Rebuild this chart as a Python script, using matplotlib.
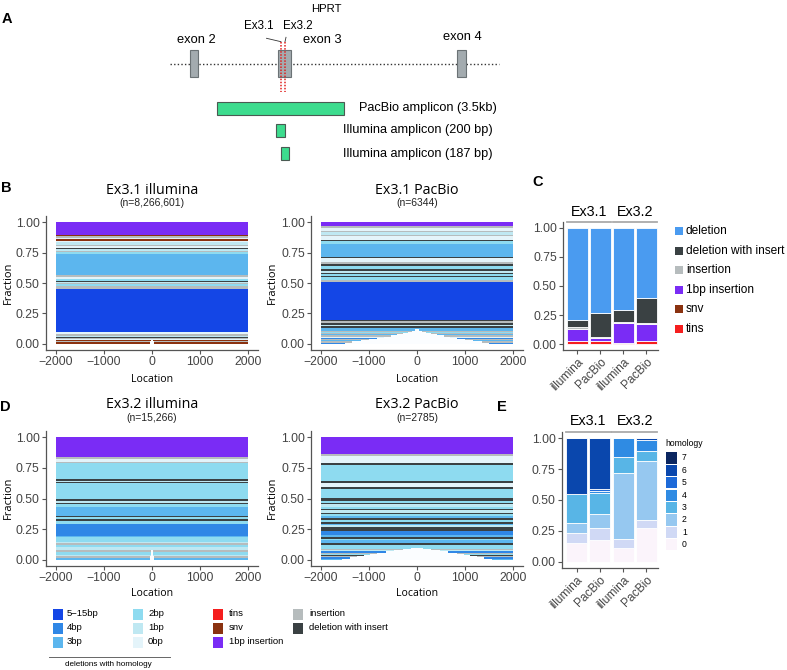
import numpy as np
import matplotlib
matplotlib.use("Agg")
import matplotlib.pyplot as plt
from matplotlib.patches import Rectangle
from matplotlib.transforms import blended_transform_factory

W, H = 787, 670
plt.rcParams['font.family'] = ['Liberation Sans', 'DejaVu Sans']

# colours used for every category in the figure
COLORS = {
    '5-15bp': '#1446E6', '4bp': '#2F87E6', '3bp': '#5CB6EE',
    '2bp': '#8EDBF0', '1bp': '#BFE8F2', '0bp': '#E4F4FA',
    'tins': '#F51E1E', 'snv': '#8A3210', '1bp insertion': '#7A2CF5',
    'insertion': '#B6BCBD', 'deletion with insert': '#3A4143',
    'deletion': '#4A9BF0',
}
HOMOLOGY_COLORS = ['#FBF4FB', '#D0D9F5', '#96C8F0', '#58B5E6',
                   '#2F8BE3', '#1E6AD8', '#0A47AD', '#0B2660']

# ---- panel A : HPRT schematic (schematic units = pixels) ----
exon_labels = ['exon 2', 'exon 3', 'exon 4']
exon_left = [190, 278, 457]
exon_right = [198, 291, 466]
exon_label_xy = [(196, 40), (322, 40), (462, 37)]
cut_labels = ['Ex3.1', 'Ex3.2']
cut_x = [280.5, 285]
amp_labels = ['PacBio amplicon (3.5kb)', 'Illumina amplicon (200 bp)', 'Illumina amplicon (187 bp)']
amp_left = [217, 276, 281]
amp_right = [344, 284.5, 289]
amp_y = [108.5, 130.5, 153.5]
amp_label_x = [359, 343, 343]

# ---- panels B/D : allele bands, bottom to top ----
ill31_cats = ['snv', 'insertion', 'snv', '0bp', 'insertion', 'deletion with insert', '1bp',
              'insertion', '0bp', '5-15bp', 'insertion', '2bp', 'insertion', '1bp',
              'deletion with insert', '2bp', '0bp', 'insertion', '3bp', '2bp', 'insertion',
              '1bp', 'deletion with insert', '0bp', 'insertion', '1bp', '0bp', 'snv', '0bp',
              'insertion', 'snv', '1bp insertion']
ill31_h = [0.012, 0.008, 0.010, 0.010, 0.010, 0.006, 0.012, 0.010, 0.018, 0.354, 0.028, 0.012,
           0.010, 0.012, 0.008, 0.015, 0.011, 0.020, 0.172, 0.014, 0.013, 0.015, 0.010, 0.015,
           0.010, 0.020, 0.013, 0.010, 0.010, 0.017, 0.011, 0.104]
ill31_gap_bottom = [45, 35, 25]

pb31_cats = ['4bp', 'insertion', '3bp', 'insertion', '4bp', '0bp', 'insertion', '3bp',
             'insertion', '2bp', 'insertion', '3bp',
             '3bp', 'deletion with insert', '1bp', 'deletion with insert', 'insertion',
             'deletion with insert', '5-15bp', 'insertion', '2bp', 'deletion with insert', '2bp',
             'deletion with insert', '1bp', 'deletion with insert', '2bp',
             'deletion with insert', 'insertion', '0bp', 'deletion with insert', '3bp', '2bp',
             'deletion with insert', '0bp', 'insertion', '1bp', 'insertion', '0bp',
             'insertion', '1bp insertion']
pb31_h = [0.010] * 12 + [0.011, 0.012, 0.015, 0.012, 0.016, 0.014, 0.305, 0.020, 0.021,
                         0.010, 0.019, 0.010, 0.017, 0.012, 0.026, 0.012, 0.018, 0.035,
                         0.011, 0.104, 0.022, 0.014, 0.029, 0.010, 0.025, 0.010, 0.021,
                         0.016, 0.033]
pb31_gap_bottom = [1500, 1340, 1170, 1000, 840, 690, 550, 420, 300, 190, 100, 40]

ill32_cats = ['3bp', 'insertion', '1bp', '2bp', 'insertion', '1bp', '2bp', 'insertion', '1bp',
              '2bp', '3bp', '4bp', '2bp', 'deletion with insert', '2bp',
              'deletion with insert', '3bp', '2bp', 'deletion with insert', '1bp',
              'deletion with insert', '2bp', 'deletion with insert', '1bp',
              'deletion with insert', '2bp', 'insertion', '0bp', 'insertion', '1bp insertion']
ill32_h = [0.014, 0.014, 0.013, 0.024, 0.016, 0.022, 0.019, 0.013, 0.014, 0.035, 0.011, 0.098,
           0.027, 0.011, 0.016, 0.011, 0.070, 0.027, 0.011, 0.011, 0.016, 0.137, 0.007, 0.008,
           0.011, 0.130, 0.014, 0.018, 0.017, 0.165]
ill32_gap_bottom = [40, 35, 30, 25, 20]

pb32_cats = ['3bp', '4bp', 'insertion', 'deletion with insert', '2bp', 'insertion', '4bp',
             '1bp', 'insertion', '2bp',
             '2bp', 'deletion with insert', '3bp', '2bp', 'deletion with insert', '3bp', '4bp',
             'deletion with insert', '1bp', '3bp', 'deletion with insert', '2bp',
             'deletion with insert', '3bp', '2bp', 'deletion with insert', '1bp',
             'deletion with insert', '2bp', '1bp', 'deletion with insert', '2bp',
             'deletion with insert', '2bp', 'deletion with insert', '0bp',
             'deletion with insert', '2bp', 'deletion with insert', '0bp', 'insertion',
             '1bp insertion']
pb32_h = [0.010] * 10 + [0.019, 0.016, 0.028, 0.010, 0.011, 0.016, 0.038, 0.033, 0.011, 0.013,
                         0.014, 0.016, 0.016, 0.017, 0.016, 0.011, 0.021, 0.011, 0.017, 0.021,
                         0.011, 0.016, 0.018, 0.075, 0.015, 0.039, 0.016, 0.125, 0.016, 0.060,
                         0.016, 0.138]
pb32_gap_bottom = [1550, 1400, 1250, 1100, 980, 830, 650, 480, 300, 120]

# ---- panel C : mutation types ----
bar_labels = ['illumina', 'PacBio', 'illumina', 'PacBio']
c_types = ['tins', 'snv', '1bp insertion', 'insertion', 'deletion with insert', 'deletion']
c_tins = [0.025, 0.025, 0.006, 0.025]
c_snv = [0.003, 0.002, 0.002, 0.002]
c_ins1 = [0.105, 0.028, 0.177, 0.145]
c_ins = [0.012, 0.008, 0.008, 0.008]
c_delins = [0.062, 0.202, 0.097, 0.220]
c_del = [0.793, 0.735, 0.710, 0.600]

# ---- panel E : homology length among deletions ----
e_h0 = [0.155, 0.175, 0.115, 0.275]
e_h1 = [0.080, 0.100, 0.070, 0.063]
e_h2 = [0.075, 0.110, 0.535, 0.480]
e_h3 = [0.240, 0.175, 0.130, 0.075]
e_h4 = [0.000, 0.012, 0.150, 0.092]
e_h5 = [0.000, 0.013, 0.000, 0.000]
e_h6 = [0.450, 0.415, 0.000, 0.015]
e_h7 = [0.000, 0.000, 0.000, 0.000]

fig = plt.figure(figsize=(W / 100, H / 100), dpi=100)
ov = fig.add_axes([0, 0, 1, 1])
ov.set_xlim(0, W)
ov.set_ylim(H, 0)
ov.axis('off')

GREY_TXT = '#444444'
SPINE = '#555555'


def px_axes(l, t, r, b):
    return fig.add_axes([l / W, 1 - b / H, (r - l) / W, (b - t) / H])


def style(ax):
    for s in ['top', 'right']:
        ax.spines[s].set_visible(False)
    for s in ['left', 'bottom']:
        ax.spines[s].set_color(SPINE)
        ax.spines[s].set_linewidth(0.9)
    ax.tick_params(length=3, width=0.8, color=SPINE, labelcolor=GREY_TXT, labelsize=8.8, pad=1.5)
    ax.set_ylim(-0.05, 1.05)
    ax.set_yticks([0, 0.25, 0.5, 0.75, 1.0])
    ax.set_yticklabels(['0.00', '0.25', '0.50', '0.75', '1.00'])


def band_plot(box, cats, heights, gap_bottom, title, n_text, xc, ytitle):
    ax = px_axes(*box)
    style(ax)
    h = np.array(heights)
    bottoms = np.concatenate([[0], np.cumsum(h)[:-1]])
    gaps = np.full(len(cats), 9.0)
    gaps[:len(gap_bottom)] = gap_bottom
    ax.barh(bottoms, 4000, left=-2000, height=h, align='edge',
            color=[COLORS[c] for c in cats], linewidth=0)
    ax.barh(bottoms, 2 * gaps, left=-gaps, height=h, align='edge', color='#FBFDFF', linewidth=0)
    ax.set_xlim(-2200, 2200)
    ax.set_xticks([-2000, -1000, 0, 1000, 2000])
    ov.text(xc, ytitle, title, ha='center', va='center', fontsize=10.3, family=['Open Sans', 'DejaVu Sans'])
    ov.text(xc, ytitle + 13, n_text, ha='center', va='center', fontsize=7.5, color='#222222')
    return ax


# ---------------- panel A ----------------
ov.text(326, 9, 'HPRT', ha='center', va='center', fontsize=8.2)
ov.plot([170, 499], [63.5, 63.5], ls=(0, (1, 1.6)), color='#333333', lw=1.0)
for lab, l, r, (tx, ty) in zip(exon_labels, exon_left, exon_right, exon_label_xy):
    ov.add_patch(Rectangle((l, 50), r - l, 27, facecolor='#A3ABAF', edgecolor='#6B7275', lw=0.8, zorder=3))
    ov.text(tx, ty, lab, ha='center', va='center', fontsize=9.3)
for x in cut_x:
    ov.plot([x, x], [42, 92], ls=(0, (1, 1)), color='#E0201E', lw=1.1, zorder=4)
ov.text(259, 26, cut_labels[0], ha='center', va='center', fontsize=8.4)
ov.text(298, 26, cut_labels[1], ha='center', va='center', fontsize=8.4)
ov.plot([266.5, 281], [38.3, 41.7], color='#333333', lw=0.6)
ov.plot([286, 285], [37.3, 41.7], color='#333333', lw=0.6)
for lab, l, r, y, tx in zip(amp_labels, amp_left, amp_right, amp_y, amp_label_x):
    ov.add_patch(Rectangle((l, y - 6.5), r - l, 13, facecolor='#3DDC8E', edgecolor='#4A5A52', lw=0.8))
    ov.text(tx, y, lab, ha='left', va='center', fontsize=9.2)

# ---------------- panels B & D ----------------
band_plot((46, 216, 258, 350), ill31_cats, ill31_h, ill31_gap_bottom,
          'Ex3.1 illumina', '(n=8,266,601)', 152, 190)
band_plot((311, 216, 523, 350), pb31_cats, pb31_h, pb31_gap_bottom,
          'Ex3.1 PacBio', '(n=6344)', 417, 190)
band_plot((46, 431, 258, 566), ill32_cats, ill32_h, ill32_gap_bottom,
          'Ex3.2 illumina', '(n=15,266)', 152, 405)
band_plot((311, 431, 523, 566), pb32_cats, pb32_h, pb32_gap_bottom,
          'Ex3.2 PacBio', '(n=2785)', 417, 405)
for x, y in [(8, 283), (272, 283), (8, 498), (272, 498)]:
    ov.text(x, y, 'Fraction', rotation=90, ha='center', va='center', fontsize=8,
            family=['Open Sans', 'DejaVu Sans'])
for x, y in [(152, 380), (417, 380), (152, 593), (417, 593)]:
    ov.text(x, y, 'Location', ha='center', va='center', fontsize=7.6,
            family=['Open Sans', 'DejaVu Sans'])

# ---------------- panels C & E ----------------
xpos = np.arange(4)


def stacked(box, layers, colors, strip_y):
    ax = px_axes(*box)
    style(ax)
    base = np.zeros(4)
    for vals, col in zip(layers, colors):
        ax.bar(xpos, vals, bottom=base, width=0.91, color=col, edgecolor='white', linewidth=0.6)
        base = base + np.array(vals)
    ax.set_xlim(-0.63, 3.5)
    ax.set_xticks(xpos)
    ax.set_xticklabels(bar_labels, rotation=45, ha='right', rotation_mode='anchor', fontsize=8.6)
    tr = blended_transform_factory(ax.transData, ax.transAxes)
    for (a, b), lab in zip([(-0.46, 1.46), (1.54, 3.46)], ['Ex3.1', 'Ex3.2']):
        ax.plot([a, b], [1.0, 1.0], transform=tr, color='#AAAAAA', lw=1.3, clip_on=False)
        ax.text((a + b) / 2, 1.0 + strip_y, lab, transform=tr, ha='center', va='center', fontsize=10.3)
    return ax


stacked((563, 222, 658, 350), [c_tins, c_snv, c_ins1, c_ins, c_delins, c_del],
        [COLORS[t] for t in c_types], 0.08)
stacked((562, 432, 658, 568), [e_h0, e_h1, e_h2, e_h3, e_h4, e_h5, e_h6, e_h7],
        HOMOLOGY_COLORS, 0.08)

# legend C
c_legend = ['deletion', 'deletion with insert', 'insertion', '1bp insertion', 'snv', 'tins']
for i, lab in enumerate(c_legend):
    y = 231 + 19.5 * i
    ov.add_patch(Rectangle((675, y - 4), 7.5, 8, facecolor=COLORS[lab], lw=0))
    ov.text(686, y, lab, ha='left', va='center', fontsize=8.6)

# legend E
ov.text(665, 444, 'homology', ha='left', va='center', fontsize=6.2)
for i in range(8):
    y = 458 + 12.4 * i
    ov.add_patch(Rectangle((666, y - 5.6), 11, 11.2, facecolor=HOMOLOGY_COLORS[7 - i], lw=0))
    ov.text(682, y, str(7 - i), ha='left', va='center', fontsize=6.2)

# bottom legend
bottom_cols = [(52.5, 67, ['5-15bp', '4bp', '3bp']),
               (133, 148, ['2bp', '1bp', '0bp']),
               (213, 229, ['tins', 'snv', '1bp insertion']),
               (293, 309, ['insertion', 'deletion with insert'])]
for sx, tx, labs in bottom_cols:
    for i, lab in enumerate(labs):
        y = 614 + 14 * i
        ov.add_patch(Rectangle((sx, y - 5.5), 10, 11, facecolor=COLORS[lab], lw=0))
        ov.text(tx, y, lab.replace('-', '\u2212'), ha='left', va='center', fontsize=6.8)
ov.plot([49, 170], [657, 657], color='#666666', lw=0.7)
ov.text(108, 664, 'deletions with homology', ha='center', va='center', fontsize=5.9)

# panel letters
for lab, x, y in [('A', 7, 19), ('B', 6, 188), ('C', 538, 182), ('D', 5, 407), ('E', 502, 407)]:
    ov.text(x, y, lab, ha='center', va='center', fontsize=10.5, fontweight='bold')

fig.savefig('out.png', dpi=100)
